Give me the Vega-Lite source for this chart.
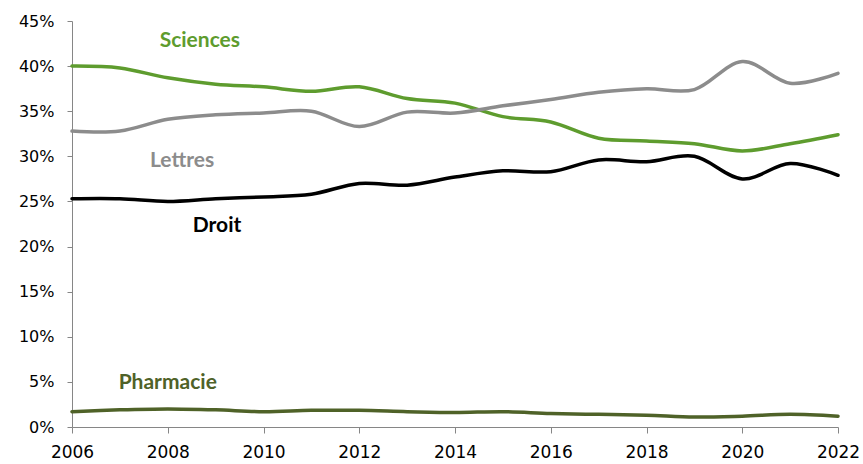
{
  "$schema": "https://vega.github.io/schema/vega-lite/v6.json",
  "autosize": "none",
  "padding": {"left": 72, "top": 21, "right": 25, "bottom": 37},
  "width": 766,
  "height": 406,
  "background": "white",
  "config": {"view": {"stroke": null}, "font": "Lato"},
  "datasets": {
    "series": [
      {"year": 2006, "filiere": "Sciences", "pct": 40.0},
      {"year": 2007, "filiere": "Sciences", "pct": 39.8},
      {"year": 2008, "filiere": "Sciences", "pct": 38.7},
      {"year": 2009, "filiere": "Sciences", "pct": 38.0},
      {"year": 2010, "filiere": "Sciences", "pct": 37.7},
      {"year": 2011, "filiere": "Sciences", "pct": 37.2},
      {"year": 2012, "filiere": "Sciences", "pct": 37.7},
      {"year": 2013, "filiere": "Sciences", "pct": 36.4},
      {"year": 2014, "filiere": "Sciences", "pct": 35.9},
      {"year": 2015, "filiere": "Sciences", "pct": 34.4},
      {"year": 2016, "filiere": "Sciences", "pct": 33.8},
      {"year": 2017, "filiere": "Sciences", "pct": 32.0},
      {"year": 2018, "filiere": "Sciences", "pct": 31.7},
      {"year": 2019, "filiere": "Sciences", "pct": 31.4},
      {"year": 2020, "filiere": "Sciences", "pct": 30.6},
      {"year": 2021, "filiere": "Sciences", "pct": 31.4},
      {"year": 2022, "filiere": "Sciences", "pct": 32.4},
      {"year": 2006, "filiere": "Lettres", "pct": 32.8},
      {"year": 2007, "filiere": "Lettres", "pct": 32.8},
      {"year": 2008, "filiere": "Lettres", "pct": 34.1},
      {"year": 2009, "filiere": "Lettres", "pct": 34.6},
      {"year": 2010, "filiere": "Lettres", "pct": 34.8},
      {"year": 2011, "filiere": "Lettres", "pct": 35.0},
      {"year": 2012, "filiere": "Lettres", "pct": 33.3},
      {"year": 2013, "filiere": "Lettres", "pct": 34.9},
      {"year": 2014, "filiere": "Lettres", "pct": 34.8},
      {"year": 2015, "filiere": "Lettres", "pct": 35.6},
      {"year": 2016, "filiere": "Lettres", "pct": 36.3},
      {"year": 2017, "filiere": "Lettres", "pct": 37.1},
      {"year": 2018, "filiere": "Lettres", "pct": 37.5},
      {"year": 2019, "filiere": "Lettres", "pct": 37.4},
      {"year": 2020, "filiere": "Lettres", "pct": 40.5},
      {"year": 2021, "filiere": "Lettres", "pct": 38.1},
      {"year": 2022, "filiere": "Lettres", "pct": 39.2},
      {"year": 2006, "filiere": "Droit", "pct": 25.3},
      {"year": 2007, "filiere": "Droit", "pct": 25.3},
      {"year": 2008, "filiere": "Droit", "pct": 25.0},
      {"year": 2009, "filiere": "Droit", "pct": 25.3},
      {"year": 2010, "filiere": "Droit", "pct": 25.5},
      {"year": 2011, "filiere": "Droit", "pct": 25.8},
      {"year": 2012, "filiere": "Droit", "pct": 27.0},
      {"year": 2013, "filiere": "Droit", "pct": 26.8},
      {"year": 2014, "filiere": "Droit", "pct": 27.7},
      {"year": 2015, "filiere": "Droit", "pct": 28.4},
      {"year": 2016, "filiere": "Droit", "pct": 28.3},
      {"year": 2017, "filiere": "Droit", "pct": 29.6},
      {"year": 2018, "filiere": "Droit", "pct": 29.4},
      {"year": 2019, "filiere": "Droit", "pct": 30.0},
      {"year": 2020, "filiere": "Droit", "pct": 27.5},
      {"year": 2021, "filiere": "Droit", "pct": 29.2},
      {"year": 2022, "filiere": "Droit", "pct": 27.9},
      {"year": 2006, "filiere": "Pharmacie", "pct": 1.7},
      {"year": 2007, "filiere": "Pharmacie", "pct": 1.9},
      {"year": 2008, "filiere": "Pharmacie", "pct": 2.0},
      {"year": 2009, "filiere": "Pharmacie", "pct": 1.9},
      {"year": 2010, "filiere": "Pharmacie", "pct": 1.7},
      {"year": 2011, "filiere": "Pharmacie", "pct": 1.85},
      {"year": 2012, "filiere": "Pharmacie", "pct": 1.85},
      {"year": 2013, "filiere": "Pharmacie", "pct": 1.7},
      {"year": 2014, "filiere": "Pharmacie", "pct": 1.6},
      {"year": 2015, "filiere": "Pharmacie", "pct": 1.7},
      {"year": 2016, "filiere": "Pharmacie", "pct": 1.5},
      {"year": 2017, "filiere": "Pharmacie", "pct": 1.4},
      {"year": 2018, "filiere": "Pharmacie", "pct": 1.3},
      {"year": 2019, "filiere": "Pharmacie", "pct": 1.1},
      {"year": 2020, "filiere": "Pharmacie", "pct": 1.2},
      {"year": 2021, "filiere": "Pharmacie", "pct": 1.4},
      {"year": 2022, "filiere": "Pharmacie", "pct": 1.2}
    ],
    "labels": [
      {"year": 2008.67, "pct": 42.8, "filiere": "Sciences"},
      {"year": 2008.3, "pct": 29.5, "filiere": "Lettres"},
      {"year": 2009.03, "pct": 22.3, "filiere": "Droit"},
      {"year": 2008.0, "pct": 4.9, "filiere": "Pharmacie"}
    ]
  },
  "layer": [
    {
      "data": {"name": "series"},
      "mark": {"type": "line", "interpolate": "cardinal", "strokeCap": "round"},
      "encoding": {
        "x": {
          "field": "year", "type": "quantitative",
          "scale": {"domain": [2006, 2022], "nice": false, "zero": false},
          "axis": {
            "title": null, "values": [2006, 2008, 2010, 2012, 2014, 2016, 2018, 2020, 2022],
            "format": "d", "grid": false, "domainColor": "#868686", "tickColor": "#868686",
            "tickSize": 6, "labelPadding": 11, "labelFontSize": 17, "labelColor": "#000000",
            "labelFont": "DejaVu Sans", "labelFlush": false, "labelOverlap": false
          }
        },
        "y": {
          "field": "pct", "type": "quantitative",
          "scale": {"domain": [0, 45], "nice": false},
          "axis": {
            "title": null, "values": [0, 5, 10, 15, 20, 25, 30, 35, 40, 45],
            "labelExpr": "datum.value + '%'", "grid": false, "domainColor": "#868686",
            "tickColor": "#868686", "tickSize": 5, "labelPadding": 13, "labelFontSize": 16,
            "labelColor": "#000000", "labelFont": "DejaVu Sans", "labelFlush": false, "labelOverlap": false
          }
        },
        "color": {
          "field": "filiere", "type": "nominal",
          "scale": {"domain": ["Sciences", "Lettres", "Droit", "Pharmacie"], "range": ["#5E9C2E", "#8C8C8C", "#000000", "#4F6228"]},
          "legend": null
        },
        "strokeWidth": {
          "field": "filiere", "type": "nominal",
          "scale": {"domain": ["Sciences", "Lettres", "Droit", "Pharmacie"], "range": [3.5, 3.5, 3.5, 4.5]},
          "legend": null
        }
      }
    },
    {
      "data": {"name": "labels"},
      "mark": {"type": "text", "fontSize": 21, "fontWeight": "bold", "font": "Lato", "align": "center", "baseline": "middle"},
      "encoding": {
        "x": {"field": "year", "type": "quantitative"},
        "y": {"field": "pct", "type": "quantitative"},
        "text": {"field": "filiere"},
        "color": {"field": "filiere", "type": "nominal", "legend": null}
      }
    }
  ]
}
